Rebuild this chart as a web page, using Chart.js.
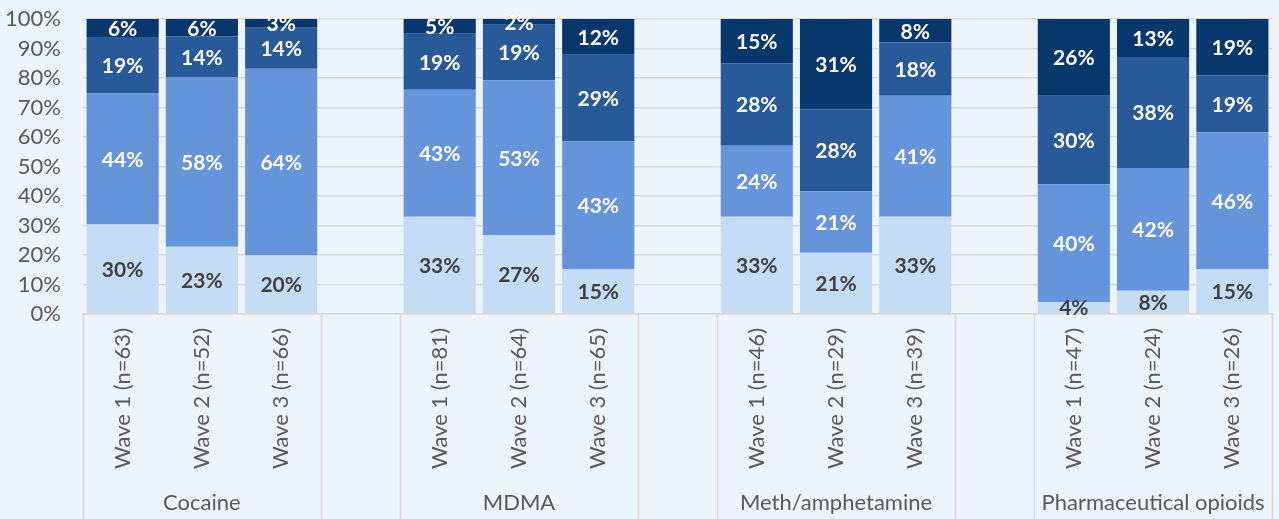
<!DOCTYPE html>
<html>
<head>
<meta charset="utf-8">
<script src="https://cdn.jsdelivr.net/npm/chart.js@4"></script>
<style>
  html, body { margin: 0; padding: 0; background: #eef4fb; }
  #wrap { width: 1279px; height: 519px; }
</style>
</head>
<body>
<div id="wrap"><canvas id="drugChart" width="1279" height="519"></canvas></div>
<script>
// wave labels, '' marks the empty slot between drug groups
const categories = [
  'Wave 1 (n=63)', 'Wave 2 (n=52)', 'Wave 3 (n=66)', '',
  'Wave 1 (n=81)', 'Wave 2 (n=64)', 'Wave 3 (n=65)', '',
  'Wave 1 (n=46)', 'Wave 2 (n=29)', 'Wave 3 (n=39)', '',
  'Wave 1 (n=47)', 'Wave 2 (n=24)', 'Wave 3 (n=26)'
];
const groups = ['Cocaine', 'MDMA', 'Meth/amphetamine', 'Pharmaceutical opioids'];

// segment values (%) from bottom to top
const seriesA = [30, 23, 20, null, 33, 27, 15, null, 33, 21, 33, null, 4, 8, 15];
const seriesB = [44, 58, 64, null, 43, 53, 43, null, 24, 21, 41, null, 40, 42, 46];
const seriesC = [19, 14, 14, null, 19, 19, 29, null, 28, 28, 18, null, 30, 38, 19];
const seriesD = [6, 6, 3, null, 5, 2, 12, null, 15, 31, 8, null, 26, 13, 19];
const yTicks = [0, 10, 20, 30, 40, 50, 60, 70, 80, 90, 100];

const colors = ['#c5dcf5', '#6594da', '#285a9a', '#08376d'];
const allSeries = [seriesA, seriesB, seriesC, seriesD];
const FONT = 'Lato, "Open Sans", sans-serif';

// 100% stacked: scale each bar to its own total
const totals = categories.map((c, i) => allSeries.reduce((s, arr) => s + (arr[i] || 0), 0));

const datasets = allSeries.map((arr, k) => ({
  label: 'S' + (k + 1),
  data: arr.map((v, i) => v == null ? null : v / totals[i] * 100),
  raw: arr,
  backgroundColor: colors[k],
  barPercentage: 0.91,
  categoryPercentage: 1.0
}));

// bar value labels
const valueLabels = {
  id: 'valueLabels',
  afterDatasetsDraw(chart) {
    const ctx = chart.ctx;
    ctx.save();
    ctx.font = 'bold 21px ' + FONT;
    ctx.textAlign = 'center';
    ctx.textBaseline = 'middle';
    chart.data.datasets.forEach((ds, k) => {
      const meta = chart.getDatasetMeta(k);
      meta.data.forEach((el, i) => {
        const v = ds.raw[i];
        if (v == null) return;
        ctx.fillStyle = k === 0 ? '#404040' : '#ffffff';
        ctx.fillText(v + '%', el.x, (el.y + el.base) / 2 + 1);
      });
    });
    ctx.restore();
  }
};

// group separators and group names under the wave labels
const groupAxis = {
  id: 'groupAxis',
  afterDraw(chart) {
    const ctx = chart.ctx;
    const x = chart.scales.x;
    const half = (x.getPixelForValue(1) - x.getPixelForValue(0)) / 2;
    const top = chart.chartArea.bottom;
    const bottom = chart.height;

    // split categories into runs separated by ''
    const spans = [];
    let start = null;
    categories.forEach((c, i) => {
      if (c !== '' && start === null) start = i;
      if (c === '' && start !== null) { spans.push([start, i - 1]); start = null; }
    });
    if (start !== null) spans.push([start, categories.length - 1]);

    const edges = new Set();
    spans.forEach(([a, b]) => {
      edges.add(Math.round(x.getPixelForValue(a) - half) + 0.5);
      edges.add(Math.round(x.getPixelForValue(b) + half) + 0.5);
    });

    ctx.save();
    ctx.strokeStyle = '#d9d9d9';
    ctx.lineWidth = 1.5;
    edges.forEach(px => {
      ctx.beginPath();
      ctx.moveTo(px, top);
      ctx.lineTo(px, bottom);
      ctx.stroke();
    });

    ctx.font = '22px ' + FONT;
    ctx.fillStyle = '#595959';
    ctx.textAlign = 'center';
    ctx.textBaseline = 'middle';
    spans.forEach(([a, b], g) => {
      const cx = (x.getPixelForValue(a) + x.getPixelForValue(b)) / 2;
      ctx.fillText(groups[g], cx, 503);
    });
    ctx.restore();
  }
};

new Chart(document.getElementById('drugChart'), {
  type: 'bar',
  data: { labels: categories, datasets: datasets },
  options: {
    responsive: false,
    animation: false,
    layout: { padding: { left: 0, top: 19, right: 7, bottom: 0 } },
    plugins: {
      legend: { display: false },
      tooltip: { enabled: false }
    },
    scales: {
      x: {
        stacked: true,
        grid: { display: false, drawTicks: false },
        border: { display: true, color: '#d9d9d9', width: 1.5 },
        ticks: {
          autoSkip: false,
          minRotation: 90,
          maxRotation: 90,
          padding: 14,
          color: '#595959',
          font: { family: FONT, size: 22 }
        },
        afterFit(scale) {
          scale.height = 205;
          scale.paddingLeft = 0;
          scale.paddingRight = 0;
          scale.paddingTop = 0;
          scale.paddingBottom = 0;
        }
      },
      y: {
        stacked: true,
        min: 0,
        max: 100,
        afterBuildTicks(scale) { scale.ticks = yTicks.map(v => ({ value: v })); },
        grid: { color: '#d9d9d9', lineWidth: 1.5, drawTicks: false },
        border: { display: false },
        ticks: {
          autoSkip: false,
          padding: 22,
          color: '#595959',
          font: { family: FONT, size: 22 },
          callback: v => v + '%'
        },
        afterFit(scale) {
          scale.width = 83;
          scale.paddingTop = 0;
          scale.paddingBottom = 0;
        }
      }
    }
  },
  plugins: [valueLabels, groupAxis]
});
</script>
</body>
</html>
